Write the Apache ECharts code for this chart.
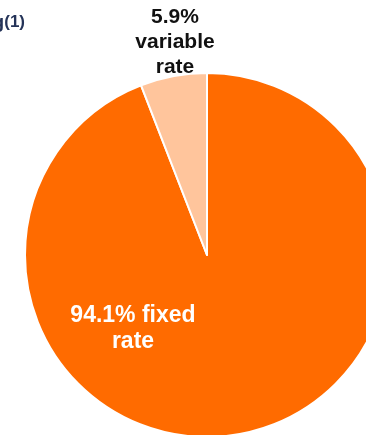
<!DOCTYPE html>
<html>
<head>
<meta charset="utf-8">
<script src="https://cdn.jsdelivr.net/npm/echarts@6/dist/echarts.min.js"></script>
<style>
  html, body { margin: 0; padding: 0; background: #fff; }
  #chart { width: 366px; height: 435px; }
</style>
</head>
<body>
<div id="chart"></div>
<script>
// Debt mix by interest rate type (%)
const categories = ['fixed rate', 'variable rate'];
const shares = [94.1, 5.9];
const labelLines = [['94.1% fixed', 'rate'], ['5.9%', 'variable', 'rate']];

const chart = echarts.init(document.getElementById('chart'), null, { renderer: 'canvas' });

const data = categories.map((name, i) => ({ name, value: shares[i] }));

chart.setOption({
  animation: false,
  graphic: [{
    type: 'text',
    right: 341,
    top: 13,
    style: {
      text: '{a|Rating}{b|(1)}',
      textAlign: 'right',
      rich: {
        a: { fill: '#243358', fontSize: 19, fontWeight: 'bold', fontFamily: '"Liberation Sans", Arial, sans-serif' },
        b: { fill: '#243358', fontSize: 17, fontWeight: 'bold', fontFamily: '"Liberation Sans", Arial, sans-serif' }
      }
    }
  }],
  series: [{
    type: 'pie',
    center: [207, 255],
    radius: 182,
    startAngle: 90,
    clockwise: true,
    silent: true,
    itemStyle: { borderColor: '#ffffff', borderWidth: 2 },
    color: ['#FF6B00', '#FFC59C'],
    labelLine: { show: false },
    label: {
      show: true,
      position: 'inside',
      fontFamily: '"Liberation Sans", Arial, sans-serif',
      fontWeight: 'bold',
      align: 'center',
      formatter: p => {
        const lines = labelLines[p.dataIndex].slice();
        lines[0] = lines[0].replace(/^[\d.]+%/, p.value.toFixed(1) + '%');
        return lines.join('\n');
      }
    },
    labelLayout: p => p.dataIndex === 0
      ? { x: 133, y: 329, align: 'center', verticalAlign: 'middle' }
      : { x: 175, y: 42, align: 'center', verticalAlign: 'middle' },
    data: [
      { ...data[0], label: { color: '#ffffff', fontSize: 23, lineHeight: 26 } },
      { ...data[1], label: { color: '#111111', fontSize: 21, lineHeight: 25 } }
    ]
  }]
});
</script>
</body>
</html>
